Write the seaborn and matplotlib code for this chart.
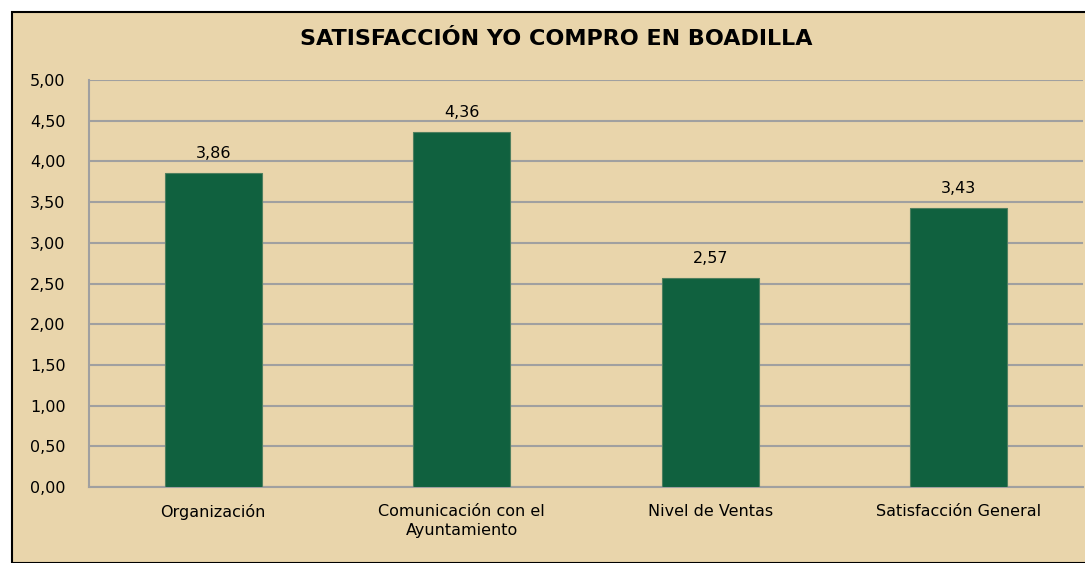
import matplotlib
matplotlib.use("Agg")
import matplotlib.pyplot as plt
import seaborn as sns
import pandas as pd
from matplotlib.patches import Rectangle
from matplotlib.ticker import MultipleLocator, FuncFormatter

# datos del grafico
categorias = ["Organización", "Comunicación con el\nAyuntamiento", "Nivel de Ventas", "Satisfacción General"]
valores = [3.86, 4.36, 2.57, 3.43]
titulo = "SATISFACCIÓN YO COMPRO EN BOADILLA"

df = pd.DataFrame({"categoria": categorias, "valor": valores})

sns.set_style("white")
plt.rcParams["font.family"] = ["DejaVu Sans"]
plt.rcParams["text.color"] = "black"
plt.rcParams["xtick.labelcolor"] = "black"
plt.rcParams["ytick.labelcolor"] = "black"

fondo = "#E9D5AB"
verde = "#10613F"
gris = "#A0A0A0"

fig = plt.figure(figsize=(10.85, 5.63), dpi=100)
fig.patch.set_facecolor("white")
# marco del grafico
fig.patches.append(Rectangle((12 / 1085, 0), 1.1, 1 - 12 / 563, transform=fig.transFigure,
                             facecolor=fondo, edgecolor="black", linewidth=1.5, zorder=-10))

ax = fig.add_axes([89 / 1085, 1 - 487 / 563, (1083 - 89) / 1085, (487 - 80) / 563])
ax.patch.set_alpha(0)

sns.barplot(data=df, x="categoria", y="valor", color=verde, width=0.39, saturation=1,
            edgecolor="#4f7f5f", linewidth=0.8, ax=ax, zorder=3)

ax.set_ylim(0, 5)
ax.set_xlim(-0.5, 3.5)
ax.yaxis.set_major_locator(MultipleLocator(0.5))
ax.yaxis.set_major_formatter(FuncFormatter(lambda v, p: f"{v:.2f}".replace(".", ",")))
ax.yaxis.grid(True, color=gris, linewidth=1.5, zorder=1)
ax.set_axisbelow(True)

# ticks en los limites de las categorias
ax.set_xticks([0, 1, 2, 3])
ax.set_xticklabels(categorias, fontsize=11.5, linespacing=1.35)
ax.set_xticks([-0.5, 0.5, 1.5, 2.5, 3.5], minor=True)
ax.tick_params(axis="x", which="major", length=0, pad=12)
ax.tick_params(axis="x", which="minor", length=6, width=1.2, color=gris, direction="out")
ax.tick_params(axis="y", length=7, width=1.2, color=gris, direction="out", labelsize=11.5, pad=10)
ax.set_xlabel("")
ax.set_ylabel("")

for s in ["top", "right"]:
    ax.spines[s].set_visible(False)
for s in ["left", "bottom"]:
    ax.spines[s].set_color(gris)
    ax.spines[s].set_linewidth(1.5)

for i, v in enumerate(valores):
    ax.text(i, v + 0.15, f"{v:.2f}".replace(".", ","), ha="center", va="bottom", fontsize=11.5)

fig.text(556 / 1085, 1 - 39 / 563, titulo, ha="center", va="center", fontsize=16, fontweight="bold")

fig.savefig("out.png", dpi=100, facecolor=fig.get_facecolor())
